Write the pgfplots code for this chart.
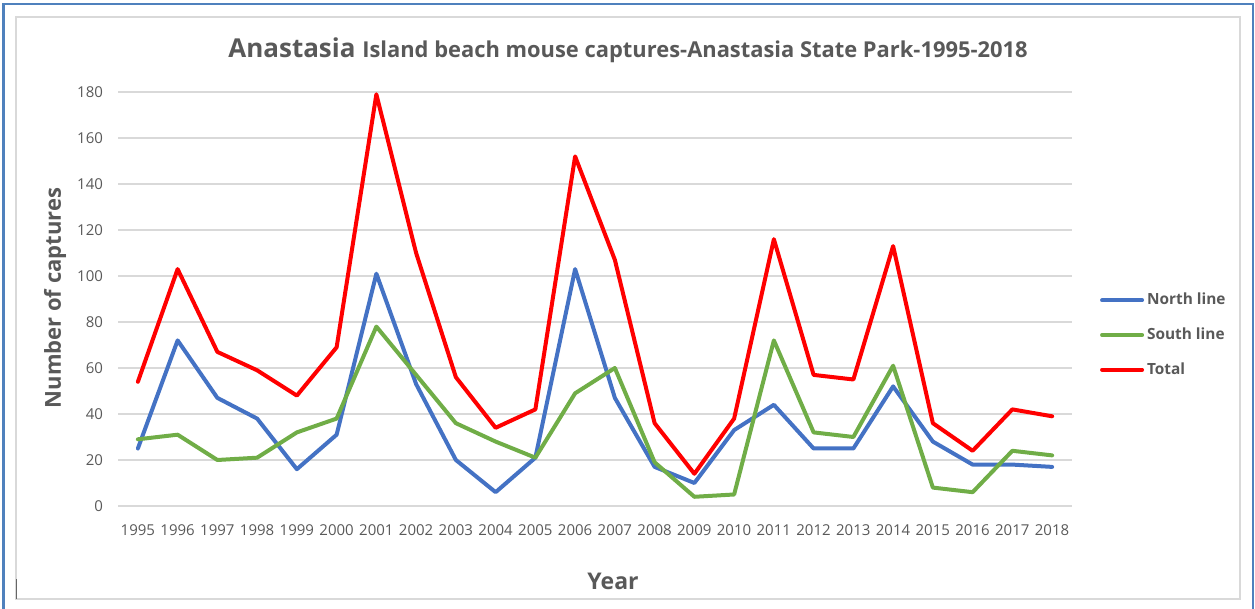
\documentclass[border=0pt]{standalone}
\usepackage{pgfplots}
\pgfplotsset{compat=1.18}
\usepackage{fontspec}
\setmainfont{Open Sans}
\definecolor{nblue}{HTML}{4472C4}
\definecolor{sgreen}{HTML}{70AD47}
\definecolor{tred}{HTML}{FF0000}
\definecolor{txt}{HTML}{595959}
\definecolor{gridgray}{HTML}{D9D9D9}
\definecolor{frameblue}{HTML}{4F81BD}
\begin{document}
\begin{tikzpicture}
% canvas: 1px = 0.5pt
\path[use as bounding box] (0,0) rectangle (627.5pt,304.5pt);
\draw[frameblue, line width=1.2pt] (1.8pt,0pt) -- (1.8pt,302.5pt) -- (626.5pt,302.5pt) -- (626.5pt,0pt);
\draw[gridgray, line width=1pt] (8pt,5pt) rectangle (620pt,296pt);
\draw[black!60, line width=0.8pt] (8.3pt,5pt) -- (8.3pt,15pt);
\begin{axis}[
  at={(59pt,51.5pt)}, anchor=south west,
  scale only axis, width=477pt, height=207pt,
  xmin=1994.5, xmax=2018.5, ymin=0, ymax=180,
  axis line style={draw=none},
  ymajorgrids, xmajorgrids=false, grid style={gridgray, line width=0.75pt},
  xtick={1995,...,2018}, ytick={0,20,...,180},
  major tick length=0pt,
  xtick pos=bottom, ytick pos=left,
  /pgf/number format/assume math mode=true,
  /pgf/number format/1000 sep={},
  tick label style={font=\fontsize{7.5}{9}\selectfont, text=txt},
  xticklabel style={yshift=-6pt},
  yticklabel style={xshift=-4pt},
  legend style={at={(1.029,0.413)}, anchor=west, draw=none, fill=none,
    font=\fontsize{7.7}{9}\selectfont\bfseries, text=txt, row sep=6pt,
    inner sep=0pt, nodes={inner xsep=1.5pt}},
  legend cell align=left,
  legend image code/.code={\draw[#1, line width=2pt] (0pt,0pt) -- (20pt,0pt);},
  every axis plot/.append style={line width=2pt, line join=round, line cap=round},
]
\addplot[nblue] coordinates {(1995,25)(1996,72)(1997,47)(1998,38)(1999,16)(2000,31)(2001,101)(2002,53)(2003,20)(2004,6)(2005,21)(2006,103)(2007,47)(2008,17)(2009,10)(2010,33)(2011,44)(2012,25)(2013,25)(2014,52)(2015,28)(2016,18)(2017,18)(2018,17)};
\addlegendentry{North line}
\addplot[sgreen] coordinates {(1995,29)(1996,31)(1997,20)(1998,21)(1999,32)(2000,38)(2001,78)(2002,57)(2003,36)(2004,28)(2005,21)(2006,49)(2007,60)(2008,19)(2009,4)(2010,5)(2011,72)(2012,32)(2013,30)(2014,61)(2015,8)(2016,6)(2017,24)(2018,22)};
\addlegendentry{South line}
\addplot[tred] coordinates {(1995,54)(1996,103)(1997,67)(1998,59)(1999,48)(2000,69)(2001,179)(2002,110)(2003,56)(2004,34)(2005,42)(2006,152)(2007,107)(2008,36)(2009,14)(2010,38)(2011,116)(2012,57)(2013,55)(2014,113)(2015,36)(2016,24)(2017,42)(2018,39)};
\addlegendentry{Total}
\end{axis}
\node[text=txt, font=\bfseries] at (314pt,279.5pt) {\fontsize{13}{15}\selectfont Anastasia \fontsize{10.95}{13}\selectfont Island beach mouse captures-Anastasia State Park-1995-2018};
\node[text=txt, font=\fontsize{11}{13}\selectfont\bfseries, rotate=90] at (27.5pt,155.5pt) {Number of captures};
\node[text=txt, font=\fontsize{11.5}{13}\selectfont\bfseries] at (306.5pt,14pt) {Year};
\end{tikzpicture}
\end{document}
